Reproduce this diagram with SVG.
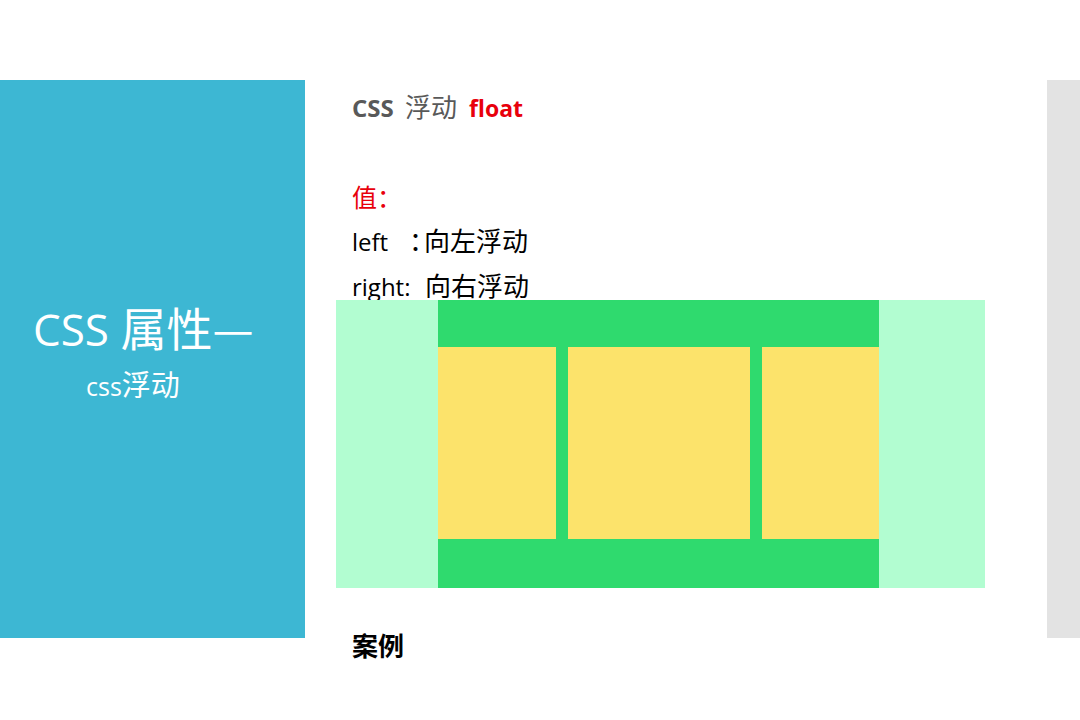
<svg xmlns="http://www.w3.org/2000/svg" width="1080" height="720" viewBox="0 0 1080 720">
<style>
.t{font-family:"Open Sans","Noto Sans","Noto Sans CJK SC",sans-serif}
.cjk{font-family:"Noto Sans CJK SC","Noto Sans",sans-serif}
</style>
<rect width="1080" height="720" fill="#ffffff"/>
<g id="left-panel">
<rect x="0" y="80" width="305" height="558" fill="#3DB7D3"/>
<text class="t" x="33" y="346" font-size="44" fill="#ffffff">CSS <tspan class="cjk" font-size="46">属性—</tspan></text>
<text class="t" x="86" y="396" font-size="25" fill="#ffffff">css<tspan class="cjk" font-size="29">浮动</tspan></text>
</g>
<g id="right-bar">
<rect x="1047" y="80" width="33" height="558" fill="#E3E3E3"/>
</g>
<g id="content">
<text class="t" x="352" y="117" font-size="24" font-weight="bold" fill="#595959">CSS</text>
<text class="cjk" x="405" y="117" font-size="26" fill="#595959">浮动</text>
<text class="t" x="469" y="117" font-size="23" font-weight="bold" fill="#E8000B">float</text>
<text class="cjk" x="352" y="207" font-size="25" fill="#E8000B">值：</text>
<text class="t" x="352" y="251" font-size="24" fill="#000000">left</text>
<text class="cjk" x="409 424 450 476 502" y="251" font-size="26" fill="#000000">：向左浮动</text>
<text class="t" x="352" y="296" font-size="24" fill="#000000">right:</text>
<text class="cjk" x="425" y="296" font-size="26" fill="#000000">向右浮动</text>
<text class="cjk" x="352" y="656" font-size="26" font-weight="bold" fill="#000000">案例</text>
</g>
<g id="float-demo">
<rect x="336" y="300" width="649" height="288" fill="#B2FDD1"/>
<rect x="438" y="300" width="441" height="288" fill="#2FDA6E"/>
<rect x="438" y="347" width="118" height="192" fill="#FCE36B"/>
<rect x="568" y="347" width="182" height="192" fill="#FCE36B"/>
<rect x="762" y="347" width="117" height="192" fill="#FCE36B"/>
</g>
</svg>
